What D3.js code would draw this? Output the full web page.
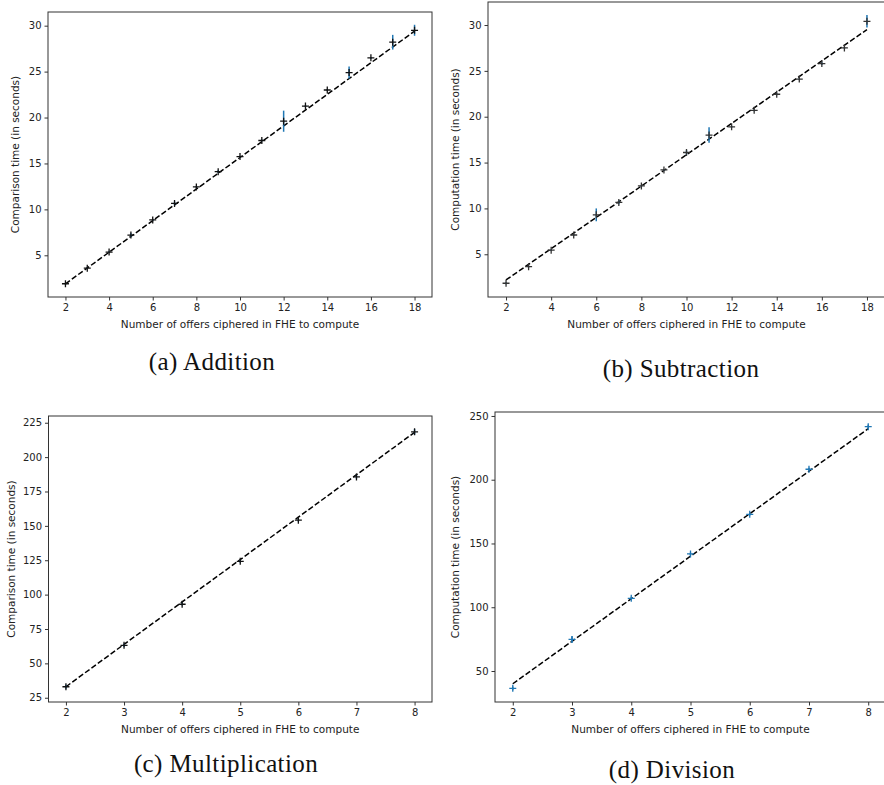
<!DOCTYPE html>
<meta charset="utf-8">
<style>

body { margin: 0; background: #fff; }

.frame {
  fill: none;
  stroke: #333;
  stroke-width: 1;
}

.tick text {
  font-family: "DejaVu Sans", sans-serif;
  font-size: 10px;
  fill: #222;
}

.label {
  font-family: "DejaVu Sans", sans-serif;
  font-size: 10.5px;
  fill: #222;
}

.caption {
  font-family: "Liberation Serif", serif;
  font-size: 25px;
  letter-spacing: 0.4px;
  fill: #111;
}

.fit {
  fill: none;
  stroke: #000;
  stroke-width: 1.5px;
  stroke-dasharray: 5.5,2.4;
}

.err {
  stroke: #1f77b4;
  stroke-width: 1.5px;
}

</style>
<svg width="884" height="785"></svg>
<script src="https://d3js.org/d3.v7.min.js"></script>
<script>

// (a) Addition
var xAdd   = [2, 3, 4, 5, 6, 7, 8, 9, 10, 11, 12, 13, 14, 15, 16, 17, 18];
var yAdd   = [1.9, 3.6, 5.35, 7.2, 8.85, 10.65, 12.45, 14.1, 15.75, 17.5, 19.6, 21.25, 23.0, 24.9, 26.5, 28.2, 29.5];
var errAdd = [0.1, 0.1, 0.1, 0.2, 0.1, 0.2, 0.1, 0.15, 0.1, 0.1, 1.15, 0.1, 0.1, 0.65, 0.1, 0.8, 0.6];
var fitAdd = [1.9, 29.4];

// (b) Subtraction
var xSub   = [2, 3, 4, 5, 6, 7, 8, 9, 10, 11, 12, 13, 14, 15, 16, 17, 18];
var ySub   = [1.84, 3.65, 5.45, 7.1, 9.3, 10.65, 12.45, 14.2, 16.1, 18.0, 18.9, 20.7, 22.45, 24.1, 25.8, 27.5, 30.4];
var errSub = [0.1, 0.1, 0.1, 0.1, 0.7, 0.2, 0.1, 0.1, 0.25, 0.85, 0.1, 0.1, 0.1, 0.1, 0.15, 0.1, 0.68];
var fitSub = [2.2, 29.5];

// (c) Multiplication
var xMul   = [2, 3, 4, 5, 6, 7, 8];
var yMul   = [33.0, 63.1, 93.0, 124.2, 154.1, 185.6, 218.4];
var errMul = [1.5, 1.2, 1.0, 1.0, 1.0, 1.2, 2.0];
var fitMul = [33.0, 218.0];

// (d) Division
var xDiv   = [2, 3, 4, 5, 6, 7, 8];
var yDiv   = [36.4, 74.8, 107.0, 141.8, 172.9, 208.2, 241.6];
var errDiv = [1.5, 2.5, 1.2, 1.0, 1.0, 1.2, 1.5];
var fitDiv = [40.0, 240.0];

var xTitle = "Number of offers ciphered in FHE to compute";

var panels = [
  { x: xAdd, y: yAdd, err: errAdd, fit: fitAdd, marker: "#111",
    ylabel: "Comparison time (in seconds)", caption: "(a) Addition",
    left: 48, right: 432, top: 12, bottom: 297,
    xdom: [1.2, 18.8], ydom: [0.46, 31.49],
    xticks: d3.range(2, 19, 2), yticks: d3.range(5, 31, 5),
    ylx: 15, capx: 212, capy: 370 },
  { x: xSub, y: ySub, err: errSub, fit: fitSub, marker: "#333",
    ylabel: "Computation time (in seconds)", caption: "(b) Subtraction",
    left: 488, right: 885, top: 2, bottom: 297,
    xdom: [1.2, 18.8], ydom: [0.34, 32.51],
    xticks: d3.range(2, 19, 2), yticks: d3.range(5, 31, 5),
    ylx: 455, capx: 681, capy: 377 },
  { x: xMul, y: yMul, err: errMul, fit: fitMul, marker: "#111",
    ylabel: "Comparison time (in seconds)", caption: "(c) Multiplication",
    left: 48.5, right: 432, top: 416, bottom: 702,
    xdom: [1.7, 8.3], ydom: [21.9, 229.9],
    xticks: d3.range(2, 9), yticks: d3.range(25, 226, 25),
    ylx: 11, capx: 226, capy: 772 },
  { x: xDiv, y: yDiv, err: errDiv, fit: fitDiv, marker: "#1f77b4",
    ylabel: "Computation time (in seconds)", caption: "(d) Division",
    left: 495, right: 886, top: 412, bottom: 702,
    xdom: [1.7, 8.3], ydom: [25.7, 253.1],
    xticks: d3.range(2, 9), yticks: d3.range(50, 251, 50),
    ylx: 455, capx: 672, capy: 778 }
];

var svg = d3.select("svg");

panels.forEach(function(p) {
  var g = svg.append("g");

  var x = d3.scaleLinear().domain(p.xdom).range([p.left, p.right]),
      y = d3.scaleLinear().domain(p.ydom).range([p.bottom, p.top]);

  g.append("g")
      .attr("transform", "translate(0," + p.bottom + ")")
      .call(d3.axisBottom(x).tickValues(p.xticks).tickSize(3.5).tickPadding(3).tickFormat(d3.format("d")))
      .call(function(a) { a.select(".domain").remove(); });

  g.append("g")
      .attr("transform", "translate(" + p.left + ",0)")
      .call(d3.axisLeft(y).tickValues(p.yticks).tickSize(3.5).tickPadding(3).tickFormat(d3.format("d")))
      .call(function(a) { a.select(".domain").remove(); });

  g.selectAll(".tick line").attr("stroke", "#333");

  g.append("rect")
      .attr("class", "frame")
      .attr("x", p.left)
      .attr("y", p.top)
      .attr("width", p.right - p.left)
      .attr("height", p.bottom - p.top);

  // fitted trend, dashed
  var line = d3.line()
      .x(function(d) { return x(d[0]); })
      .y(function(d) { return y(d[1]); });

  g.append("path")
      .attr("class", "fit")
      .attr("d", line([[p.x[0], p.fit[0]], [p.x[p.x.length - 1], p.fit[1]]]));

  var pts = p.x.map(function(v, i) { return { x: v, y: p.y[i], e: p.err[i] }; });

  // error bars
  g.selectAll(".err")
    .data(pts)
    .enter().append("line")
      .attr("class", "err")
      .attr("x1", function(d) { return x(d.x); })
      .attr("x2", function(d) { return x(d.x); })
      .attr("y1", function(d) { return y(d.y - d.e); })
      .attr("y2", function(d) { return y(d.y + d.e); });

  // "+" markers
  g.selectAll(".pt")
    .data(pts)
    .enter().append("path")
      .attr("class", "pt")
      .attr("transform", function(d) { return "translate(" + x(d.x) + "," + y(d.y) + ")"; })
      .attr("d", "M-3.5,0H3.5M0,-3.5V3.5")
      .attr("stroke", p.marker)
      .attr("stroke-width", 1.3);

  g.append("text")
      .attr("class", "label")
      .attr("text-anchor", "middle")
      .attr("x", (p.left + p.right) / 2)
      .attr("y", p.bottom + 31)
      .text(xTitle);

  g.append("text")
      .attr("class", "label")
      .attr("text-anchor", "middle")
      .attr("transform", "translate(" + p.ylx + "," + ((p.top + p.bottom) / 2) + ") rotate(-90)")
      .attr("dy", "0.35em")
      .text(p.ylabel);

  g.append("text")
      .attr("class", "caption")
      .attr("text-anchor", "middle")
      .attr("x", p.capx)
      .attr("y", p.capy)
      .text(p.caption);
});

</script>
